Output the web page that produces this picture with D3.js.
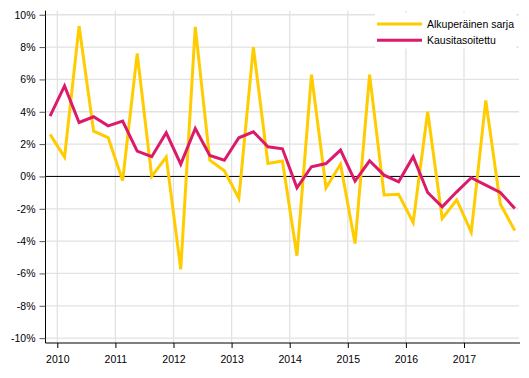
<!DOCTYPE html>
<html>
<head>
<meta charset="utf-8">
<script src="https://cdn.jsdelivr.net/npm/d3@7/dist/d3.min.js"></script>
<style>
  html, body { margin: 0; padding: 0; background: #fff; }
  svg { display: block; font-family: Arial, "Liberation Sans", sans-serif; }
</style>
</head>
<body>
<svg id="chart" width="529" height="378"></svg>
<script>
// ---- data ----
const periods = ["2009Q4",
  "2010Q1","2010Q2","2010Q3","2010Q4",
  "2011Q1","2011Q2","2011Q3","2011Q4",
  "2012Q1","2012Q2","2012Q3","2012Q4",
  "2013Q1","2013Q2","2013Q3","2013Q4",
  "2014Q1","2014Q2","2014Q3","2014Q4",
  "2015Q1","2015Q2","2015Q3","2015Q4",
  "2016Q1","2016Q2","2016Q3","2016Q4",
  "2017Q1","2017Q2","2017Q3","2017Q4"];
const original = [2.6, 1.2, 9.3, 2.8, 2.4, -0.25, 7.6, 0.0, 1.2, -5.75, 9.25, 1.0, 0.35, -1.35, 8.0, 0.8, 0.95,
  -4.9, 6.3, -0.7, 0.75, -4.15, 6.3, -1.15, -1.1, -2.85, 4.0, -2.6, -1.45, -3.45, 4.7, -1.7, -3.35];
const seasonal = [3.73, 5.6, 3.34, 3.69, 3.13, 3.42, 1.57, 1.22, 2.7, 0.76, 2.97, 1.3, 1.0, 2.39, 2.76, 1.83, 1.71,
  -0.7, 0.6, 0.8, 1.63, -0.29, 0.97, 0.08, -0.33, 1.22, -0.99, -1.88, -0.95, -0.08, -0.54, -0.99, -1.98];
const seriesNames = ["Alkuperäinen sarja", "Kausitasoitettu"];
const yTicks = [-10, -8, -6, -4, -2, 0, 2, 4, 6, 8, 10];
const xTicks = [2010, 2011, 2012, 2013, 2014, 2015, 2016, 2017];

// ---- helpers ----
const periodPos = p => +p.slice(0, 4) + (+p.slice(5) - 0.5) / 4;

const svg = d3.select("#chart");
const x = d3.scaleLinear().domain([2009.797, 2017.964]).range([45.5, 520]);
const y = d3.scaleLinear().domain([-10.3, 10.25]).range([343, 10.7]);

const gridColor = "#e2e2e2";
const yellow = "#ffcc00";
const pink = "#dc1a6c";
const fontSize = "10.5px";

// horizontal gridlines
svg.append("g").selectAll("line").data(yTicks).join("line")
  .attr("x1", x.range()[0]).attr("x2", 519)
  .attr("y1", d => y(d)).attr("y2", d => y(d))
  .attr("stroke", gridColor).attr("stroke-width", 1.3);

// vertical gridlines
svg.append("g").selectAll("line").data(xTicks).join("line")
  .attr("x1", d => x(d)).attr("x2", d => x(d))
  .attr("y1", y.range()[1]).attr("y2", y.range()[0])
  .attr("stroke", gridColor).attr("stroke-width", 1.3);

// zero line
svg.append("line")
  .attr("x1", x.range()[0]).attr("x2", x.range()[1])
  .attr("y1", y(0)).attr("y2", y(0))
  .attr("stroke", "#000").attr("stroke-width", 1);

// y axis
const yAxis = svg.append("g")
  .attr("transform", `translate(${x.range()[0]},0)`)
  .call(d3.axisLeft(y).tickValues(yTicks).tickSize(6).tickPadding(4)
    .tickFormat(d => d + "%"));
yAxis.select(".domain").attr("stroke", "#000").attr("d", `M0,${y.range()[1]}V${y.range()[0]}`);
yAxis.selectAll(".tick line").attr("stroke", "#555");
yAxis.selectAll(".tick text").attr("font-size", fontSize).attr("fill", "#000")
  .attr("font-family", "Arial, 'Liberation Sans', sans-serif");

// x axis
const xAxis = svg.append("g")
  .attr("transform", `translate(0,${y.range()[0]})`)
  .call(d3.axisBottom(x).tickValues(xTicks).tickSize(5).tickPadding(8)
    .tickFormat(d3.format("d")));
xAxis.select(".domain").attr("stroke", "#000").attr("d", `M${x.range()[0]},0H${x.range()[1]}`);
xAxis.selectAll(".tick line").attr("stroke", "#000");
xAxis.selectAll(".tick text").attr("font-size", fontSize).attr("fill", "#000")
  .attr("font-family", "Arial, 'Liberation Sans', sans-serif");

// lines
const line = d3.line()
  .x((d, i) => x(periodPos(periods[i])))
  .y(d => y(d));

svg.append("path").datum(original)
  .attr("d", line).attr("fill", "none")
  .attr("stroke", yellow).attr("stroke-width", 3).attr("stroke-linejoin", "miter");
svg.append("path").datum(seasonal)
  .attr("d", line).attr("fill", "none")
  .attr("stroke", pink).attr("stroke-width", 3).attr("stroke-linejoin", "miter");

// legend
const legend = svg.append("g");
legend.append("rect")
  .attr("x", 375).attr("y", 12.5).attr("width", 141).attr("height", 36)
  .attr("fill", "#fff");
const items = [{name: seriesNames[0], color: yellow}, {name: seriesNames[1], color: pink}];
const lg = legend.selectAll("g.item").data(items).join("g")
  .attr("class", "item")
  .attr("transform", (d, i) => `translate(377,${24 + i * 16.3})`);
lg.append("line").attr("x1", 0).attr("x2", 45).attr("y1", 0).attr("y2", 0)
  .attr("stroke", d => d.color).attr("stroke-width", 3);
lg.append("text").attr("x", 50).attr("y", 0).attr("dy", "0.35em")
  .attr("font-size", fontSize).attr("fill", "#000")
  .text(d => d.name);
</script>
</body>
</html>
